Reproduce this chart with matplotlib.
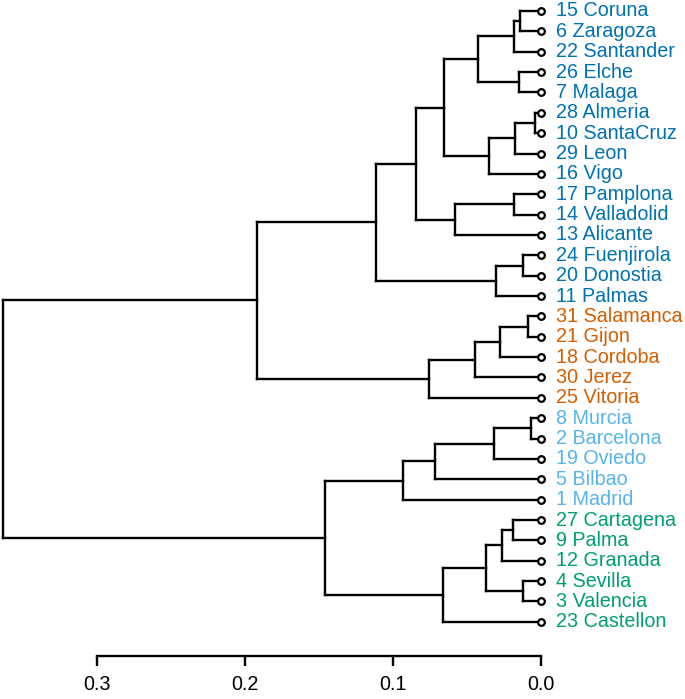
import matplotlib
matplotlib.use("Agg")
import matplotlib.pyplot as plt

plt.rcParams['font.family'] = ['Liberation Sans', 'DejaVu Sans']

# hojas de arriba a abajo
leaf_labels = ["15 Coruna", "6 Zaragoza", "22 Santander", "26 Elche", "7 Malaga",
               "28 Almeria", "10 SantaCruz", "29 Leon", "16 Vigo", "17 Pamplona",
               "14 Valladolid", "13 Alicante", "24 Fuenjirola", "20 Donostia", "11 Palmas",
               "31 Salamanca", "21 Gijon", "18 Cordoba", "30 Jerez", "25 Vitoria",
               "8 Murcia", "2 Barcelona", "19 Oviedo", "5 Bilbao", "1 Madrid",
               "27 Cartagena", "9 Palma", "12 Granada", "4 Sevilla", "3 Valencia",
               "23 Castellon"]
leaf_cluster = [0] * 15 + [1] * 5 + [2] * 5 + [3] * 6
cluster_colors = ["#0072B2", "#D55E00", "#56B4E9", "#009E73"]

# uniones: indices < 31 son hojas, 31 + k es la union k
merge_left = [0, 31, 3, 32, 5, 35, 36, 34, 9, 39, 38, 12, 42, 41,
              15, 45, 46, 47, 44, 20, 50, 51, 52, 25, 54, 28, 55, 57, 53, 49]
merge_right = [1, 2, 4, 33, 6, 7, 8, 37, 10, 11, 40, 13, 14, 43,
               16, 17, 18, 19, 48, 21, 22, 23, 24, 26, 27, 29, 56, 30, 58, 59]
merge_height = [0.0142, 0.018, 0.0146, 0.0423, 0.004, 0.0176, 0.0349, 0.0657,
                0.018, 0.058, 0.0844, 0.012, 0.0304, 0.1114,
                0.009, 0.0275, 0.0446, 0.0754, 0.192,
                0.0068, 0.0315, 0.0716, 0.093,
                0.0187, 0.0265, 0.0124, 0.0371, 0.066, 0.1456, 0.3635]
x_ticks = [0.3, 0.2, 0.1, 0.0]

n = len(leaf_labels)
W, H = 685, 699
fig = plt.figure(figsize=(W / 100, H / 100), dpi=100)
ax = fig.add_axes([0, (H - 656) / H, 541 / W, 656 / H])

pos_y = list(range(n))
pos_x = [0.0] * n
lw = 1.7
for a, b, h in zip(merge_left, merge_right, merge_height):
    ya, yb = pos_y[a], pos_y[b]
    ax.plot([pos_x[a], h], [ya, ya], color='black', lw=lw, solid_capstyle='projecting')
    ax.plot([pos_x[b], h], [yb, yb], color='black', lw=lw, solid_capstyle='projecting')
    ax.plot([h, h], [ya, yb], color='black', lw=lw, solid_capstyle='projecting')
    pos_y.append((ya + yb) / 2)
    pos_x.append(h)

ax.plot([0] * n, range(n), 'o', ms=4.8, mfc='white', mec='black', mew=1.6,
        clip_on=False, zorder=5)

for i, lab in enumerate(leaf_labels):
    ax.text(-0.0101, i, lab, color=cluster_colors[leaf_cluster[i]], fontsize=14.2,
            ha='left', va='center', clip_on=False)

ax.set_xlim(541 / 1481.0, 0)
ax.set_ylim((656 - 11) / 20.36, -11 / 20.36)
for s in ['top', 'right', 'left']:
    ax.spines[s].set_visible(False)
ax.spines['bottom'].set_bounds(0, 0.3)
ax.spines['bottom'].set_linewidth(lw)
ax.set_yticks([])
ax.set_xticks(x_ticks)
ax.set_xticklabels(["%.1f" % t for t in x_ticks])
ax.tick_params(axis='x', length=7.5, width=lw, pad=6, labelsize=14.2)

fig.savefig("out.png", dpi=100)
